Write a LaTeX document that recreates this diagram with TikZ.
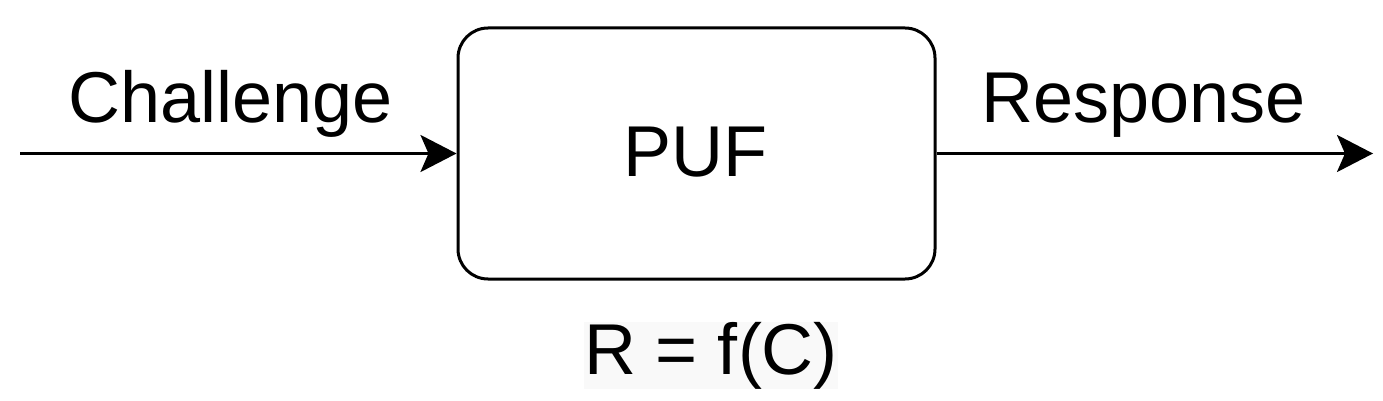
\documentclass[tikz,border=0pt]{standalone}
\usepackage{fontspec}
\setmainfont{Liberation Sans}
\usetikzlibrary{arrows.meta}
\begin{document}
\begin{tikzpicture}[x=1pt,y=-1pt,
  pufbox/.style={draw=black, line width=3pt, rounded corners=30pt,
    minimum width=477pt, minimum height=251pt, inner sep=0pt, fill=white},
  lbl/.style={font=\fontsize{72}{86}\selectfont, inner sep=0pt, anchor=base, text=black},
  arr/.style={draw=black, line width=3pt,
    -{Stealth[length=36pt,width=37pt,inset=8pt]}}]
\useasboundingbox (0,0) rectangle (1383,401);
\node[pufbox] (puf) at (696.5,153.5) {};
\node[lbl] (puft) at (695.5,176) {PUF};
\node[lbl] (chal) at (231,122) {Challenge};
\node[lbl] (resp) at (1143.5,122) {Response};
\node[lbl, fill=black!2.5] (eq) at (711,374) {R = f(C)};
\coordinate (cin) at (20,153.5);
\coordinate (cout) at (1373,153.5);
\draw[arr] (cin) -- (puf.west);
\draw[arr] (puf.east) -- (cout);
\end{tikzpicture}
\end{document}
